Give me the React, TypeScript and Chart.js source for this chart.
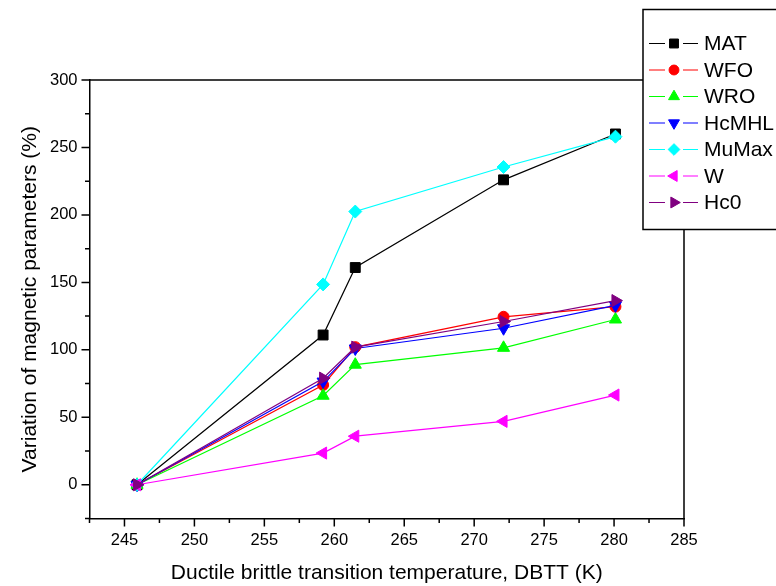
import React, { useEffect, useRef } from "react";
import { Chart, registerables } from "chart.js";
import { drawPoint } from "chart.js/helpers";

Chart.register(...registerables);

const xValues = [245.9, 259.2, 261.5, 272.1, 280.1];
const MAT = [0, 111, 161, 226, 260];
const WFO = [0, 74, 102, 124.5, 132];
const WRO = [0, 66, 89, 101.5, 122.5];
const HcMHL = [0, 76.5, 101, 116, 133];
const MuMax = [0, 148.5, 202.5, 235.5, 258];
const W = [0, 23.5, 36, 47, 66.5];
const Hc0 = [0, 79, 102, 121, 136.5];

const seriesNames = ["MAT", "WFO", "WRO", "HcMHL", "MuMax", "W", "Hc0"];
const seriesValues = [MAT, WFO, WRO, HcMHL, MuMax, W, Hc0];
const seriesColors = ["#000000", "#ff0000", "#00ff00", "#0000ff", "#00ffff", "#ff00ff", "#800080"];
const seriesMarkers = ["rect", "circle", "triangle", "triangle", "rectRot", "triangle", "triangle"];
const seriesRotations = [0, 0, 0, 180, 0, -90, 90];
const seriesRadius = [7, 5.5, 7, 7, 6.5, 7, 7];

const xMajorTicks = [245, 250, 255, 260, 265, 270, 275, 280, 285];
const xMinorTicks = [242.5, 247.5, 252.5, 257.5, 262.5, 267.5, 272.5, 277.5, 282.5];
const yMajorTicks = [0, 50, 100, 150, 200, 250, 300];
const yMinorTicks = [-25, 25, 75, 125, 175, 225, 275];

const xTitle = "Ductile brittle transition temperature, DBTT (K)";
const yTitle = "Variation of magnetic parameters (%)";

const FONT = "'Liberation Sans', Arial, sans-serif";

const framePlugin = {
  id: "frameAndLegend",
  afterDraw(chart: any) {
    const ctx = chart.ctx;
    const { left, right, top, bottom } = chart.chartArea;
    const xs = chart.scales.x;
    const ys = chart.scales.y;
    ctx.save();
    ctx.strokeStyle = "#000";
    ctx.lineWidth = 1.5;
    ctx.beginPath();
    ctx.moveTo(left, top);
    ctx.lineTo(right, top);
    ctx.lineTo(right, bottom);
    ctx.stroke();
    ctx.beginPath();
    xMajorTicks.forEach((v) => {
      const p = xs.getPixelForValue(v);
      ctx.moveTo(p, bottom);
      ctx.lineTo(p, bottom + 8);
    });
    xMinorTicks.forEach((v) => {
      const p = xs.getPixelForValue(v);
      ctx.moveTo(p, bottom);
      ctx.lineTo(p, bottom + 4.5);
    });
    yMajorTicks.forEach((v) => {
      const p = ys.getPixelForValue(v);
      ctx.moveTo(left, p);
      ctx.lineTo(left - 8, p);
    });
    yMinorTicks.forEach((v) => {
      const p = ys.getPixelForValue(v);
      ctx.moveTo(left, p);
      ctx.lineTo(left - 4.5, p);
    });
    ctx.stroke();

    // legend
    const bx = 643, by = 9.5, bh = 220;
    ctx.fillStyle = "#fff";
    ctx.fillRect(bx, by, 200, bh);
    ctx.lineWidth = 1.5;
    ctx.strokeStyle = "#000";
    ctx.strokeRect(bx, by, 200, bh);
    ctx.font = "21px " + FONT;
    ctx.textBaseline = "middle";
    ctx.textAlign = "left";
    seriesNames.forEach((name, i) => {
      const y = 43.5 + i * 26.5;
      ctx.strokeStyle = seriesColors[i];
      ctx.lineWidth = 1.2;
      ctx.beginPath();
      ctx.moveTo(649, y);
      ctx.lineTo(665, y);
      ctx.moveTo(683, y);
      ctx.lineTo(698, y);
      ctx.stroke();
      ctx.fillStyle = seriesColors[i];
      ctx.strokeStyle = seriesColors[i];
      ctx.lineWidth = 1;
      drawPoint(ctx, { pointStyle: seriesMarkers[i], rotation: seriesRotations[i], radius: seriesRadius[i] * 0.9, borderWidth: 1 }, 674, y);
      ctx.fillStyle = "#000";
      ctx.fillText(name, 704, y + 1);
    });
    ctx.restore();
  },
};

export default function App() {
  const ref = useRef<HTMLCanvasElement>(null);
  useEffect(() => {
    if (!ref.current) return;
    Chart.defaults.font.family = FONT;
    const chart = new Chart(ref.current, {
      type: "line",
      data: {
        datasets: seriesNames.map((name, i) => ({
          label: name,
          data: xValues.map((x, j) => ({ x, y: seriesValues[i][j] })),
          borderColor: seriesColors[i],
          backgroundColor: seriesColors[i],
          borderWidth: 1.2,
          pointStyle: seriesMarkers[i] as any,
          pointRotation: seriesRotations[i],
          pointRadius: seriesRadius[i],
          pointBorderWidth: 1,
          pointBorderColor: seriesColors[i],
          pointBackgroundColor: seriesColors[i],
          tension: 0,
          order: seriesNames.length - i,
          clip: false as any,
        })),
      },
      options: {
        animation: false,
        responsive: false,
        devicePixelRatio: 1,
        layout: { padding: { left: 0, top: 80, right: 92, bottom: 0 } },
        plugins: { legend: { display: false }, tooltip: { enabled: false } },
        scales: {
          x: {
            type: "linear",
            min: 242.5,
            max: 285,
            afterBuildTicks: (axis: any) => {
              axis.ticks = xMajorTicks.map((v) => ({ value: v }));
            },
            afterFit: (axis: any) => {
              axis.height = 67.5;
            },
            grid: { display: false, drawTicks: false },
            border: { display: true, color: "#000", width: 1.5 },
            ticks: {
              color: "#000",
              font: { size: 16.5, family: FONT },
              padding: 12.5,
              maxRotation: 0,
              autoSkip: false,
              callback: (v: any) => String(v),
            },
            title: {
              display: true,
              text: xTitle,
              color: "#000",
              font: { size: 21, family: FONT },
              padding: { top: 0, bottom: 0 },
            },
          },
          y: {
            type: "linear",
            min: -25,
            max: 300,
            afterBuildTicks: (axis: any) => {
              axis.ticks = yMajorTicks.map((v) => ({ value: v }));
            },
            afterFit: (axis: any) => {
              axis.width = 89.5;
            },
            grid: { display: false, drawTicks: false },
            border: { display: true, color: "#000", width: 1.5 },
            ticks: {
              color: "#000",
              font: { size: 16.5, family: FONT },
              padding: 12,
              autoSkip: false,
              callback: (v: any) => String(v),
            },
            title: {
              display: true,
              text: yTitle,
              color: "#000",
              font: { size: 21, family: FONT },
              padding: { top: 18, bottom: 0 },
            },
          },
        },
      },
      plugins: [framePlugin],
    });
    return () => chart.destroy();
  }, []);
  return (
    <div style={{ position: "fixed", left: 0, top: 0, width: 776, height: 586, background: "#fff" }}>
      <canvas ref={ref} width={776} height={586} style={{ display: "block" }} />
    </div>
  );
}
